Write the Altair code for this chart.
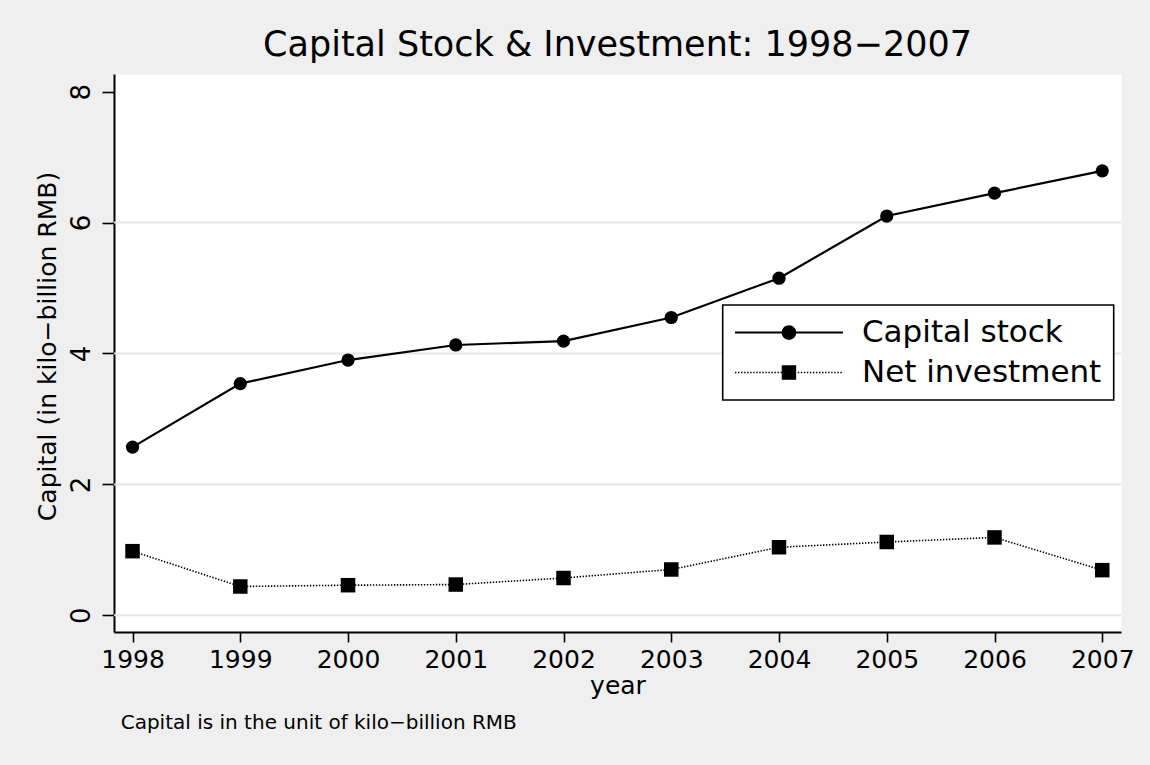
import altair as alt
import pandas as pd

# ---- data ----
years = [1998, 1999, 2000, 2001, 2002, 2003, 2004, 2005, 2006, 2007]
capital_stock = [2.57, 3.54, 3.90, 4.13, 4.19, 4.55, 5.15, 6.10, 6.45, 6.79]
net_investment = [0.98, 0.44, 0.46, 0.47, 0.57, 0.70, 1.04, 1.12, 1.19, 0.69]
series_names = ["Capital stock", "Net investment"]
y_ticks = [0, 2, 4, 6, 8]
grid_values = [0, 2, 4, 6]

title_text = "Capital Stock & Investment: 1998\u22122007"
x_title = "year"
y_title = "Capital (in kilo\u2212billion RMB)"
note_text = "Capital is in the unit of kilo\u2212billion RMB"

FONT = "DejaVu Sans"

df = pd.DataFrame({
    "year": years * 2,
    "value": capital_stock + net_investment,
    "series": [series_names[0]] * len(years) + [series_names[1]] * len(years),
})

x_scale = alt.Scale(domain=[1997.828, 2007.174], nice=False, zero=False)
y_scale = alt.Scale(domain=[-0.255, 8.27], nice=False, zero=False)

x_axis = alt.Axis(values=years, format="d", title=x_title, tickSize=10,
                  labelPadding=5, labelFontSize=25, titleY=61.7,
                  titleBaseline="alphabetic", grid=False)
y_axis = alt.Axis(values=y_ticks, title=y_title, labelAngle=270,
                  labelAlign="center", labelBaseline="alphabetic",
                  labelFontSize=26, tickSize=12, labelPadding=13,
                  titleAngle=270, titleX=-59, titleY=272, titleAlign="center",
                  titleBaseline="alphabetic", grid=False)

base = alt.Chart(df).encode(
    x=alt.X("year:Q", scale=x_scale, axis=x_axis),
    y=alt.Y("value:Q", scale=y_scale, axis=y_axis),
)

grid = alt.Chart(pd.DataFrame({"g": grid_values})).mark_rule(
    color="#e6e6e6", strokeWidth=2
).encode(y=alt.Y("g:Q", scale=y_scale, axis=y_axis))

cap_line = base.transform_filter(alt.datum.series == series_names[0]).mark_line(
    color="black", strokeWidth=2.2)
net_line = base.transform_filter(alt.datum.series == series_names[1]).mark_line(
    color="black", strokeWidth=1.6, strokeDash=[1.4, 1.6])
cap_pts = base.transform_filter(alt.datum.series == series_names[0]).mark_point(
    shape="circle", filled=True, color="black", size=175, opacity=1)
net_pts = base.transform_filter(alt.datum.series == series_names[1]).mark_point(
    shape="square", filled=True, color="black", size=210, opacity=1)


# legend symbols: a key line with the marker in the middle, drawn as filled
# SVG paths in the symbol's unit space (1 unit = 8 px at symbolSize 256)
def hbar(x0, x1, h):
    return f"M{x0:.3f},{-h:.3f}H{x1:.3f}V{h:.3f}H{x0:.3f}Z"


L, R_C, R_S = 6.75, 0.92, 0.9
circle_sym = (hbar(-L, -R_C, 0.13) + hbar(R_C, L, 0.13)
              + f"M{R_C},0A{R_C},{R_C},0,1,1,{-R_C},0A{R_C},{R_C},0,1,1,{R_C},0Z")
dots = []
p = -L
while p < -R_S - 0.1:
    dots.append(hbar(p, min(p + 0.18, -R_S), 0.09))
    p += 0.38
p = R_S + 0.2
while p < L:
    dots.append(hbar(p, min(p + 0.18, L), 0.09))
    p += 0.38
square_sym = "".join(dots) + f"M{-R_S},{-R_S}H{R_S}V{R_S}H{-R_S}Z"

legend_def = alt.Legend(
    title=None, orient="none", legendX=608.7, legendY=231, padding=12,
    fillColor="white", strokeColor="black", symbolSize=256,
    symbolStrokeWidth=0, symbolFillColor="black", symbolStrokeColor="black",
    symbolOpacity=1, symbolOffset=38.75, labelOffset=57.5, labelFont=FONT,
    labelFontSize=31, labelColor="black", rowPadding=8, labelLimit=500,
)

legend_layer = base.mark_point(
    filled=True, color="black", opacity=0
).encode(
    shape=alt.Shape("series:N", scale=alt.Scale(domain=series_names,
                                                range=[circle_sym, square_sym]),
                    legend=legend_def),
)

note = alt.Chart(pd.DataFrame({"t": [note_text]})).mark_text(
    align="left", baseline="alphabetic", font=FONT, fontSize=20, color="black"
).encode(x=alt.value(6.7), y=alt.value(655.3), text="t:N")

chart = alt.layer(
    grid, cap_line, net_line, cap_pts, net_pts, legend_layer, note
).properties(
    width=1007, height=558,
    title=alt.TitleParams(text=title_text, font=FONT, fontSize=35,
                          fontWeight="normal", color="black", anchor="middle",
                          offset=16.5, dy=33, baseline="alphabetic"),
    background="#efefef",
    padding={"left": 114, "top": 74, "right": 29, "bottom": 133},
    autosize=alt.AutoSizeParams(type="none"),
).configure_view(
    stroke="transparent", fill="white"
).configure_axis(
    domainColor="black", domainWidth=2, tickColor="black", tickWidth=1.6,
    labelFont=FONT, labelColor="black", titleFont=FONT, titleColor="black",
    titleFontWeight="normal", titleFontSize=25,
).configure_legend(
    strokeWidth=1.6
)

chart.save("out.html", embed_options={"renderer": "svg", "actions": False})
